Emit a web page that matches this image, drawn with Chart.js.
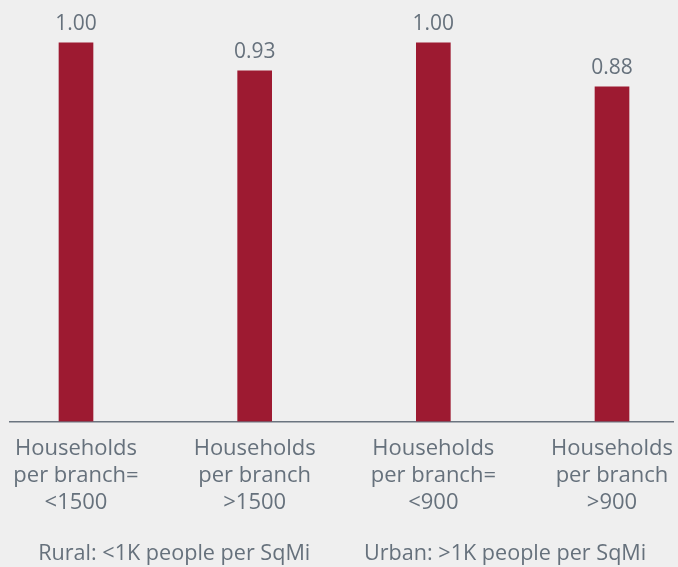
<!DOCTYPE html>
<html>
<head>
<meta charset="utf-8">
<script src="https://cdn.jsdelivr.net/npm/chart.js@4"></script>
<style>
  html, body { margin: 0; padding: 0; background: #efefef; }
  #wrap { position: relative; width: 678px; height: 567px; }
</style>
</head>
<body>
<div id="wrap"><canvas id="chart"></canvas></div>
<script>
// ----------------------
// Data
// ----------------------
const categories = [
  ['Households', 'per branch=', '<1500'],
  ['Households', 'per branch', '>1500'],
  ['Households', 'per branch=', '<900'],
  ['Households', 'per branch', '>900'],
];
const values = [1.0, 0.926, 1.0, 0.884];
const groupLabels = ['Rural: <1K people per SqMi', 'Urban: >1K people per SqMi'];

const colors = {
  bar: '#9d1a31',
  text: '#66717c',
  axis: '#6b7580',
  bg: '#efefef',
};
const fontFamily = "'Open Sans', 'Noto Sans', sans-serif";

// value labels above each bar
const valueLabels = {
  id: 'valueLabels',
  afterDatasetsDraw(chart) {
    const ctx = chart.ctx;
    const meta = chart.getDatasetMeta(0);
    ctx.save();
    ctx.font = `21px ${fontFamily}`;
    ctx.fillStyle = colors.text;
    ctx.textAlign = 'center';
    ctx.textBaseline = 'alphabetic';
    meta.data.forEach((bar, i) => {
      ctx.fillText(values[i].toFixed(2), bar.x, bar.y - 13);
    });
    ctx.restore();
  },
};

// group captions under the tick labels
const groupCaptions = {
  id: 'groupCaptions',
  afterDraw(chart) {
    const ctx = chart.ctx;
    ctx.save();
    ctx.font = `21.6px ${fontFamily}`;
    ctx.fillStyle = colors.text;
    ctx.textAlign = 'center';
    ctx.textBaseline = 'alphabetic';
    const spots = [0.257, 0.745];
    groupLabels.forEach((t, i) => {
      ctx.fillText(t, chart.width * spots[i], chart.height - 7);
    });
    ctx.restore();
  },
};

new Chart(document.getElementById('chart'), {
  type: 'bar',
  data: {
    datasets: [{
      data: values.map((v, i) => ({ x: i, y: v })),
      backgroundColor: colors.bar,
      borderWidth: 0,
      barThickness: 34,
    }],
  },
  options: {
    responsive: true,
    maintainAspectRatio: false,
    animation: false,
    layout: { padding: { left: 10, right: 5, top: 0, bottom: 51 } },
    plugins: {
      legend: { display: false },
      tooltip: { enabled: false },
    },
    scales: {
      x: {
        type: 'linear',
        offset: false,
        min: -0.3694,
        max: 3.3414,
        afterBuildTicks: (scale) => {
          scale.ticks = categories.map((_, i) => ({ value: i }));
        },
        // tick marks hidden, but their length keeps the labels off the axis
        grid: { display: false, drawTicks: true, tickLength: 14 },
        border: { display: true, color: colors.axis, width: 1.5 },
        ticks: {
          autoSkip: false,
          maxRotation: 0,
          padding: 0,
          color: colors.text,
          font: { family: fontFamily, size: 22, lineHeight: 1.22 },
          callback: (v) => categories[v],
        },
      },
      y: {
        display: false,
        min: 0,
        max: 1.113,
      },
    },
  },
  plugins: [valueLabels, groupCaptions],
});
</script>
</body>
</html>
